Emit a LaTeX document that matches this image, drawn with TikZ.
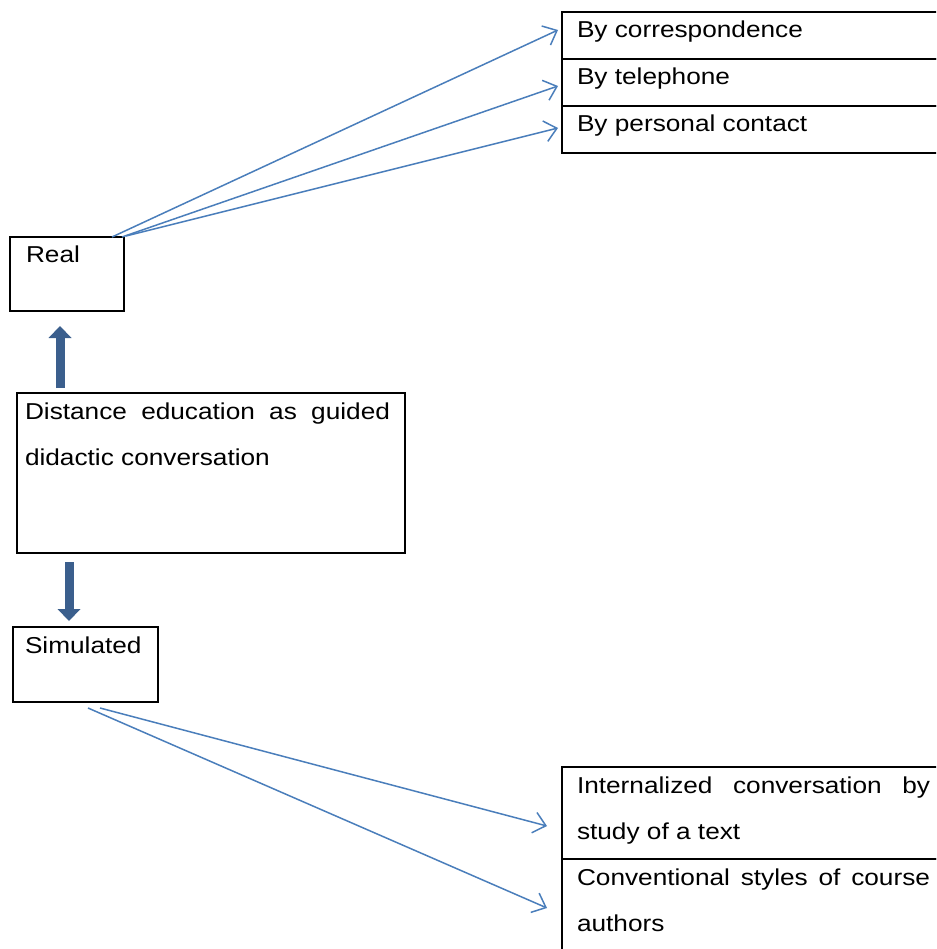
\documentclass[tikz,border=0pt]{standalone}
\usepackage{fontspec}
\setmainfont{Liberation Sans}[FakeStretch=1.14]
\usetikzlibrary{positioning}
\usetikzlibrary{arrows.meta}
\definecolor{flowblue}{HTML}{4A7EBB}
\definecolor{bigblue}{HTML}{3B5F8D}
% width, height, left pad, right pad, text
\newcommand{\celltext}[5]{\parbox[t][#2][t]{#1}{\leftskip=#3\relax\rightskip=#4\relax\rule{0pt}{26pt}#5}}

\begin{document}
\begin{tikzpicture}[x=1pt,y=-1pt,
  cellbox/.style={draw, line width=1.8pt, inner sep=0pt, outer sep=0pt, anchor=north west, font=\fontsize{23}{46}\selectfont},
  flow/.style={color=flowblue, line width=1.5pt, -{Straight Barb[length=12pt,width=21pt]}},
  bigarrow/.style={draw=bigblue, line width=9pt, -{Triangle[length=12pt,width=23pt,line width=0pt]}}]
\clip (0,0) rectangle (936,949);

% real side
\node[cellbox] (corr) at (562,12) {\celltext{380pt}{47pt}{15pt}{0pt}{By correspondence}};
\node[cellbox, below=0pt of corr] (phone) {\celltext{380pt}{47pt}{15pt}{0pt}{By telephone}};
\node[cellbox, below=0pt of phone] (contact) {\celltext{380pt}{47pt}{15pt}{0pt}{By personal contact}};

\node[cellbox] (real) at (10,237) {\celltext{114pt}{74pt}{16pt}{0pt}{Real}};

\node[cellbox] (didactic) at (17,393) {\celltext{388pt}{160pt}{8pt}{15pt}{Distance education as guided\linebreak didactic conversation}};

% simulated side
\node[cellbox] (simulated) at (13,627) {\celltext{145pt}{75pt}{12pt}{0pt}{Simulated}};

\node[cellbox] (internal) at (562,767) {\celltext{380pt}{92pt}{15pt}{12pt}{Internalized conversation by\linebreak study of a text}};
\node[cellbox, below=0pt of internal] (styles) {\celltext{380pt}{92pt}{15pt}{12pt}{Conventional styles of course\linebreak authors}};

\draw[bigarrow] ([xshift=43pt,yshift=5pt]didactic.north west) -- ([xshift=50pt,yshift=-15pt]real.south west);
\draw[bigarrow] ([xshift=52pt,yshift=-9pt]didactic.south west) -- ([xshift=56pt,yshift=6pt]simulated.north west);

\path[flow] ([xshift=102pt]real.north west) edge ([xshift=-4pt,yshift=5.5pt]corr.west)
            ([xshift=112pt]real.north west) edge ([xshift=-4pt,yshift=-3.5pt]phone.west)
            ([xshift=116pt,yshift=1pt]real.north west) edge ([xshift=-4pt,yshift=1.5pt]contact.west);

\path[flow] ([xshift=87pt,yshift=-6pt]simulated.south west) edge ([xshift=-15pt,yshift=-13pt]internal.west)
            ([xshift=75pt,yshift=-6pt]simulated.south west) edge ([xshift=-15pt,yshift=-3pt]styles.west);
\end{tikzpicture}
\end{document}
